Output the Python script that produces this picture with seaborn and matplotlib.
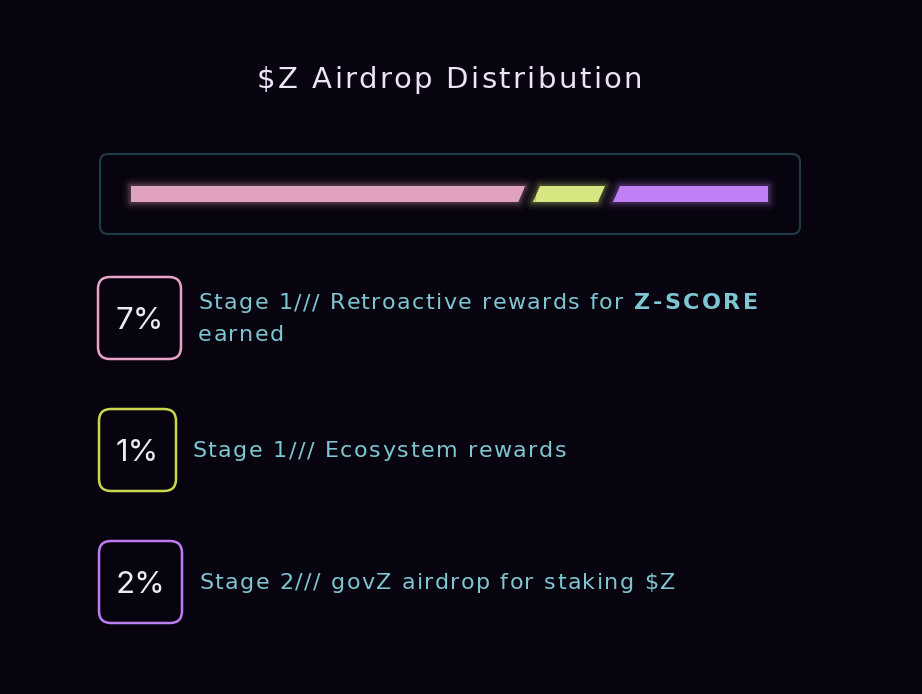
import seaborn as sns
import matplotlib.pyplot as plt
from matplotlib.patches import FancyBboxPatch, Polygon
from matplotlib.font_manager import FontProperties
import numpy as np

# chart data
title = "$Z Airdrop Distribution"
pct_labels = ["7%", "1%", "2%"]
bar_share = [62.5, 12.5, 25.0]   # share of the bar each segment takes
stage_texts = ["Stage 1/// Retroactive rewards for", "Stage 1/// Ecosystem rewards",
               "Stage 2/// govZ airdrop for staking $Z"]
colors = ["#e0a0c0", "#d8e682", "#c07ef5"]
edge_colors = ["#e7a3c8", "#c9d84a", "#bd7cf0"]

BG = "#08040f"
TEXT = "#7ec6d2"
FONT = ["DejaVu Sans"]

sns.set_theme(style="dark")
plt.rcParams["font.family"] = ["Inter", "DejaVu Sans"]

fig = plt.figure(figsize=(9.22, 6.94), dpi=100, facecolor=BG)
ax = fig.add_axes([0, 0, 1, 1])
ax.set_xlim(0, 922)
ax.set_ylim(694, 0)
ax.set_facecolor(BG)
ax.axis("off")
renderer = fig.canvas.get_renderer()


def text_width(s, prop):
    return renderer.get_text_width_height_descent(s, prop, ismath=False)[0]


def tracked_text(x, y, s, size, color, track=0.0, weight="normal", width=None):
    """draw text with extra letter spacing (pixels)"""
    prop = FontProperties(family=FONT, size=size, weight=weight)
    if width is not None:
        track = (width - text_width(s, prop)) / (len(s) - 1)
    for i, ch in enumerate(s):
        if ch != " ":
            ax.text(x + text_width(s[:i], prop) + track * i, y, ch, fontproperties=prop,
                    color=color, ha="left", va="baseline")


# title
tracked_text(257, 88, title, 21, "#ece2fa", width=385)

# frame around the bar
ax.add_patch(FancyBboxPatch((100, 154), 700, 80, boxstyle="round,pad=0,rounding_size=8",
                            fc="none", ec="#1e3c44", lw=1.5))

# bar axes, 0-100 across
bax = fig.add_axes([131 / 922, 1 - 202 / 694, (768 - 131) / 922, 16 / 694])
bax.set_xlim(0, 100)
bax.set_ylim(0, 1)
bax.axis("off")
bax.patch.set_alpha(0)

slant = 1.1   # horizontal offset of slanted edges, in bar units
gap = 0.6
cum = np.concatenate([[0], np.cumsum(bar_share)])
last = len(colors) - 1
for i, c in enumerate(colors):
    x0, x1 = cum[i], cum[i + 1]
    left_b = x0 + (gap if i > 0 else 0)
    left_t = left_b + (slant if i > 0 else 0)
    if i == last:
        right_b = right_t = x1
    else:
        right_t = x1 - gap
        right_b = right_t - slant
    pts = [(left_b, 0), (right_b, 0), (right_t, 1), (left_t, 1)]
    # soft glow
    for lw, a in [(12, 0.04), (8, 0.07), (5, 0.1), (2.5, 0.12)]:
        bax.add_patch(Polygon(pts, closed=True, fc="none", ec=c, lw=lw, alpha=a,
                              joinstyle="round", clip_on=False))
    bax.add_patch(Polygon(pts, closed=True, fc=c, ec="none", clip_on=False))

# faint seams inside the segments
for xs in [cum[1] - 0.85, cum[1] + 0.85, cum[2] - 0.45]:
    bax.plot([xs, xs], [0, 1], color="#000000", alpha=0.15, lw=0.8)

# percentage boxes
box_x = [98, 99, 99]
box_w = [83, 77, 83]
box_y = [277, 409, 541]
for i in range(3):
    ax.add_patch(FancyBboxPatch((box_x[i], box_y[i]), box_w[i], 82,
                                boxstyle="round,pad=0,rounding_size=12",
                                fc="none", ec=edge_colors[i], lw=1.8))
    ax.text(box_x[i] + box_w[i] / 2, box_y[i] + 52, pct_labels[i], color="#ecebf2",
            fontsize=22.5, ha="center", va="baseline")

# descriptions
body_track = 1.5
tracked_text(198, 309, stage_texts[0], 16, TEXT, track=body_track)
tracked_text(634, 309, "Z-SCORE", 16, TEXT, weight="bold", width=124)
tracked_text(198, 341, "earned", 16, TEXT, track=body_track)
tracked_text(192, 457, stage_texts[1], 16, TEXT, width=374)
tracked_text(199, 589, stage_texts[2], 16, TEXT, track=body_track)

fig.savefig("out.png", dpi=100, facecolor=BG)
